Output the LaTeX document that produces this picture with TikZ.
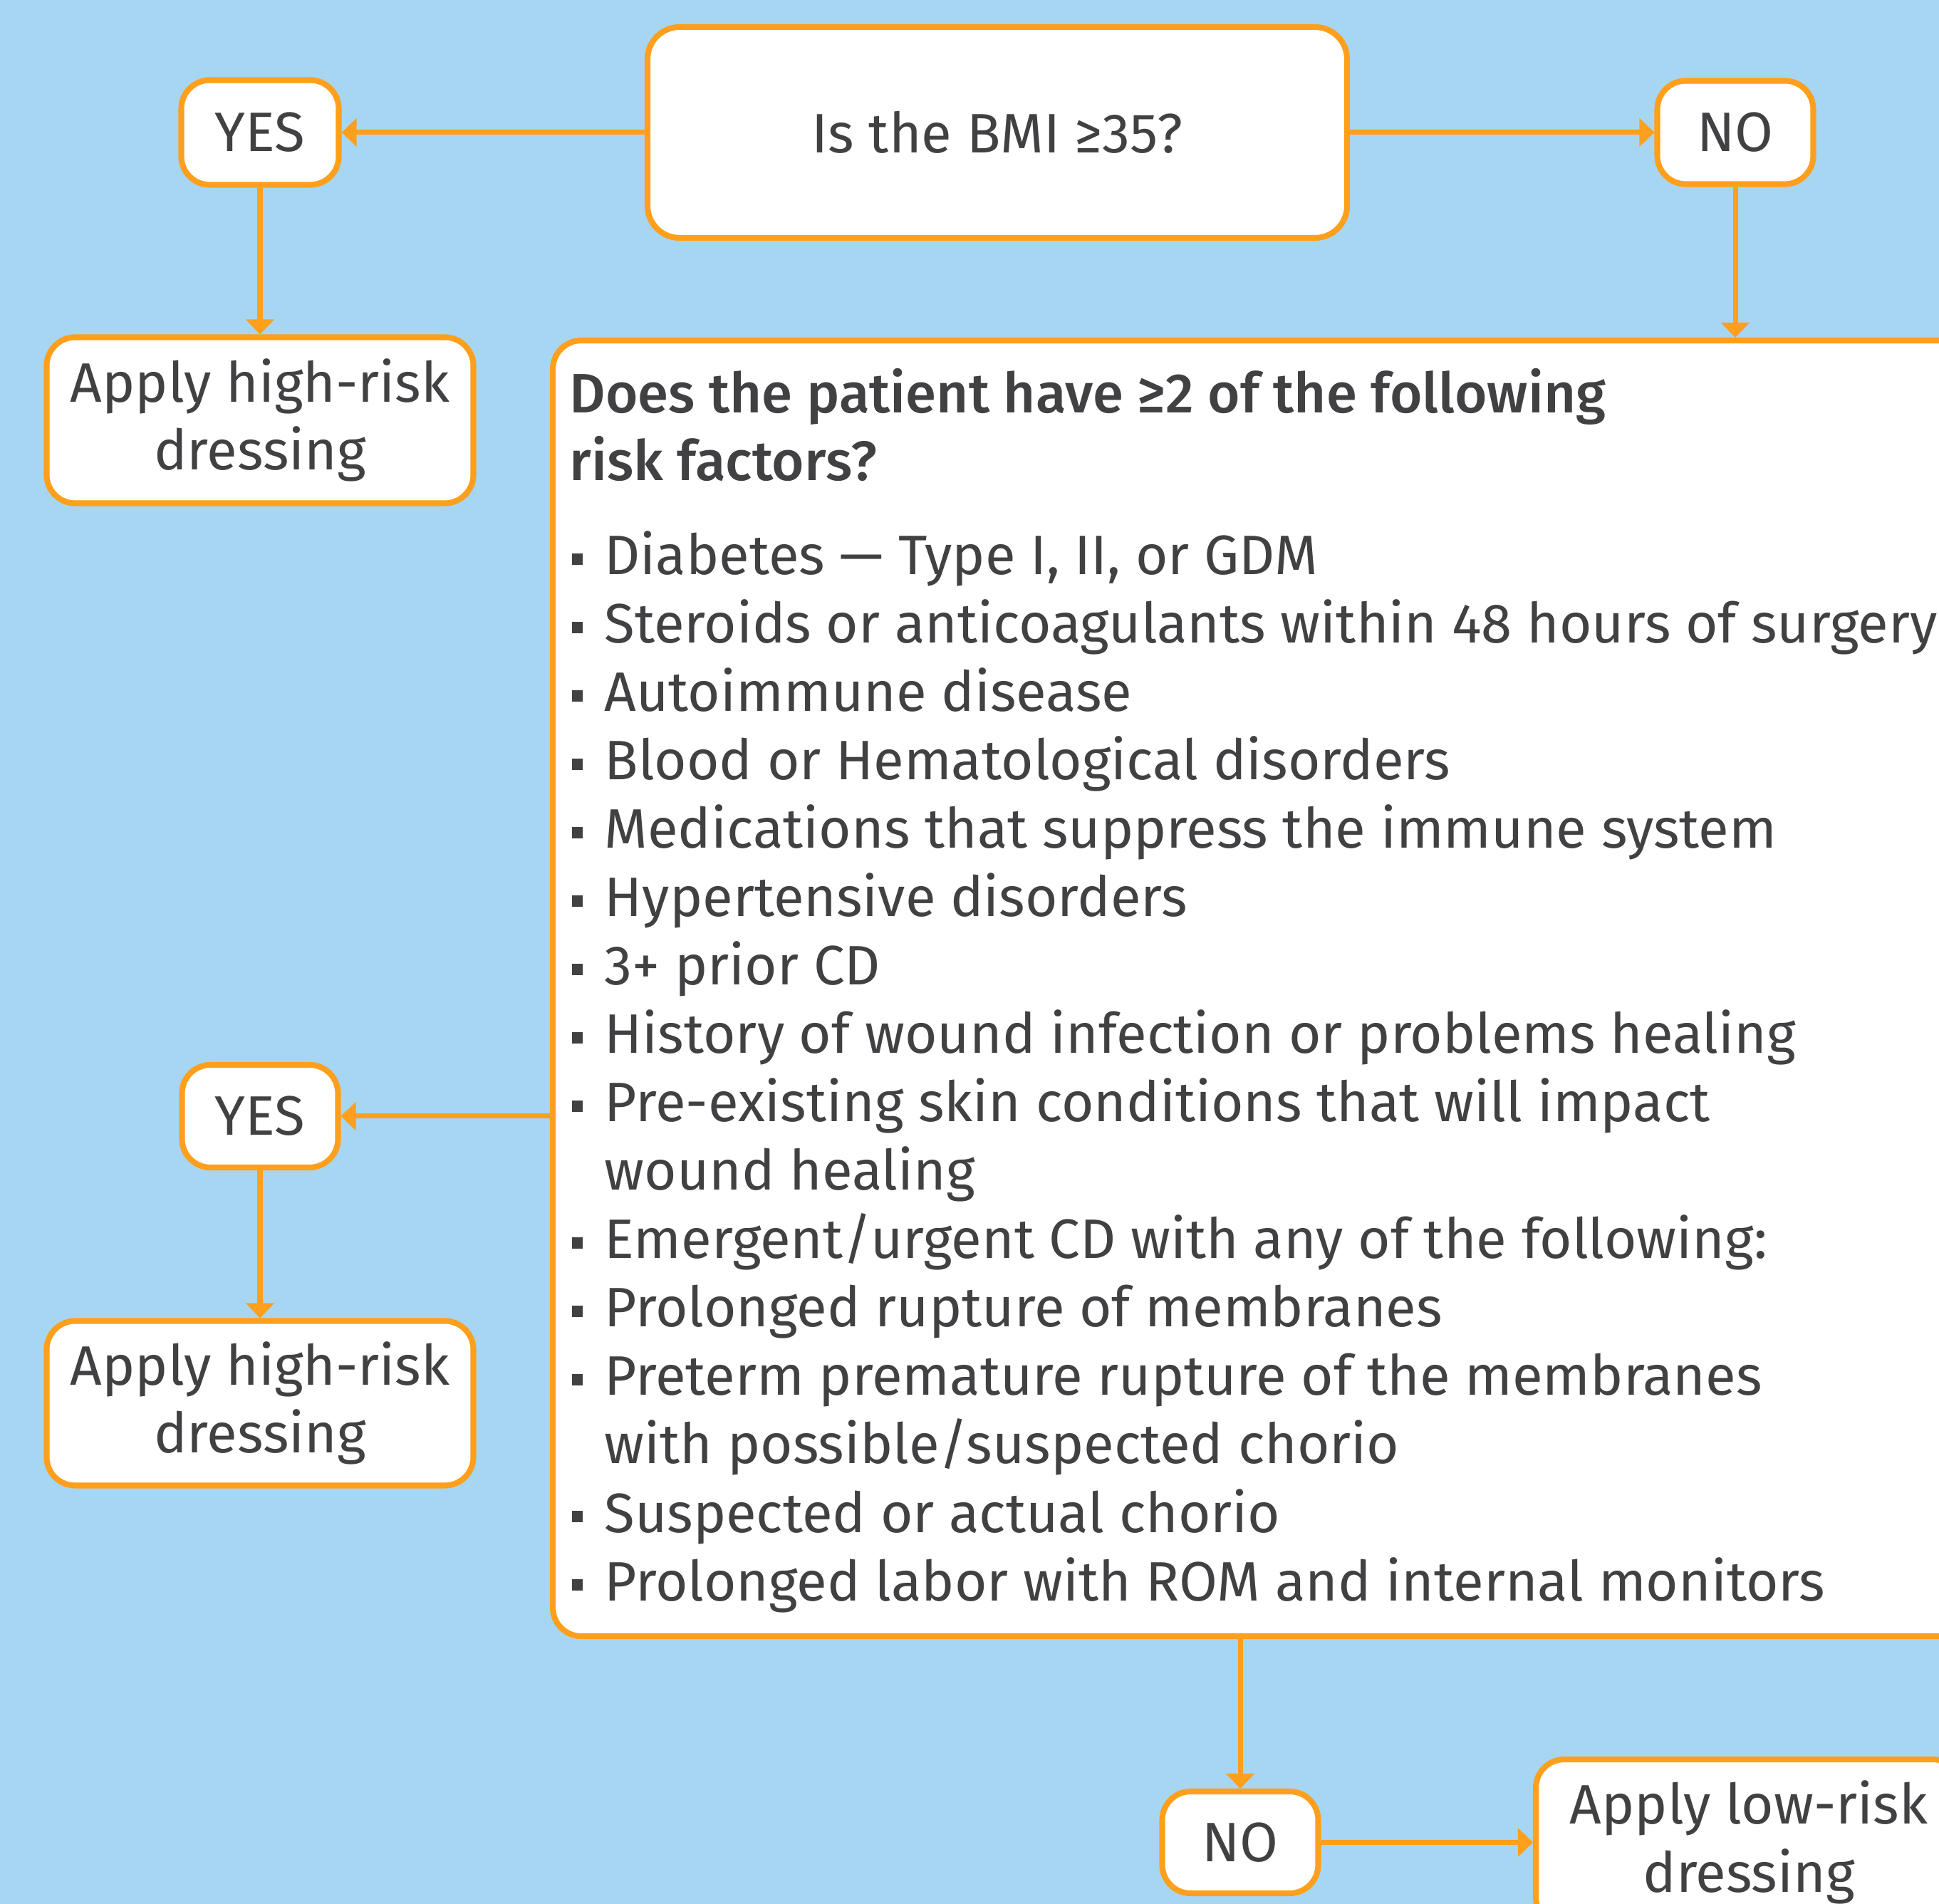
\documentclass[tikz,border=0pt]{standalone}
\usepackage{fontspec}
\setmainfont{Fira Sans}[BoldFont={Fira Sans Medium}]
\usetikzlibrary{arrows.meta}

\definecolor{skyblue}{HTML}{A6D6F2}
\definecolor{boxorange}{HTML}{FF9F1C}
\definecolor{inkgray}{HTML}{414042}

\newcommand{\sqbullet}{\makebox[0.59em][l]{\rule[0.18em]{0.2em}{0.2em}}}

\tikzset{
	choice/.style={draw=boxorange, line width=2.3pt, fill=white, rounded corners=0.4cm,
		text=inkgray, inner sep=0pt, align=center},
	flowline/.style={draw=boxorange, line width=2pt, -{Triangle[length=0.21cm, width=0.39cm]}},
	factor/.style={anchor=base west, inner sep=0pt, text=inkgray}
}

\begin{document}
\begin{tikzpicture}[font=\fontsize{22.2}{27.2}\selectfont]
	
	\useasboundingbox (0,0) rectangle (27.22,26.73);
	\clip (0,0) rectangle (27.22,26.73);
	\fill[skyblue] (0,0) rectangle (27.22,26.73);
	
	% first question
	\node[choice, minimum width=9.82cm, minimum height=2.96cm, rounded corners=0.45cm] (bmi) at (14.00, 24.87) {Is the BMI ≥35?};
	\node[choice, minimum width=2.21cm, minimum height=1.47cm] (yes1) at (3.65, 24.87) {YES};
	\node[choice, minimum width=2.19cm, minimum height=1.45cm] (no1) at (24.36, 24.87) {NO};
	\node[choice, minimum width=5.99cm, minimum height=2.33cm] (high1) at (3.65, 20.83) {Apply high-risk\\dressing};
	
	% risk factor box
	\node[choice, anchor=north west, minimum width=20.3cm, minimum height=18.19cm] (risk) at (7.72, 21.99) {};
	\node[factor] (q1) at (7.99, 20.93) {\bfseries Does the patient have ≥2 of the following};
	\node[factor] (q2) at (7.99, 19.98) {\bfseries risk factors?};
	
	\foreach \fac [count=\k from 0] in {
		{\sqbullet Diabetes — Type I, II, or GDM},
		{\sqbullet Steroids or anticoagulants within 48 hours of surgery},
		{\sqbullet Autoimmune disease},
		{\sqbullet Blood or Hematological disorders},
		{\sqbullet Medications that suppress the immune system},
		{\sqbullet Hypertensive disorders},
		{\sqbullet 3+ prior CD},
		{\sqbullet History of wound infection or problems healing},
		{\sqbullet Pre-existing skin conditions that will impact},
		{\hspace*{0.59em}wound healing},
		{\sqbullet Emergent/urgent CD with any of the following:},
		{\sqbullet Prolonged rupture of membranes},
		{\sqbullet Preterm premature rupture of the membranes},
		{\hspace*{0.59em}with possible/suspected chorio},
		{\sqbullet Suspected or actual chorio},
		{\sqbullet Prolonged labor with ROM and internal monitors}}
	\node[factor] (fac\k) at (8.02, 18.66-0.96*\k) {\fac};
	
	% second answers
	\node[choice, minimum width=2.19cm, minimum height=1.44cm] (yes2) at (3.65, 11.06) {YES};
	\node[choice, minimum width=5.99cm, minimum height=2.31cm] (high2) at (3.65, 7.03) {Apply high-risk\\dressing};
	\node[choice, minimum width=2.19cm, minimum height=1.43cm] (no2) at (17.41, 0.865) {NO};
	\node[choice, minimum width=5.98cm, minimum height=2.33cm] (low) at (24.55, 0.865) {Apply low-risk\\dressing};
	
	\draw[flowline] (bmi) -- (yes1);
	\draw[flowline] (bmi) -- (no1);
	\draw[flowline] (yes1) -- (high1);
	\draw[flowline] (no1.south) -- (no1.south |- risk.north);
	\draw[flowline] (risk.west |- yes2.east) -- (yes2.east);
	\draw[flowline] (yes2) -- (high2);
	\draw[flowline] (no2.north |- risk.south) -- (no2.north);
	\draw[flowline] (no2) -- (low);
	
\end{tikzpicture}
\end{document}
